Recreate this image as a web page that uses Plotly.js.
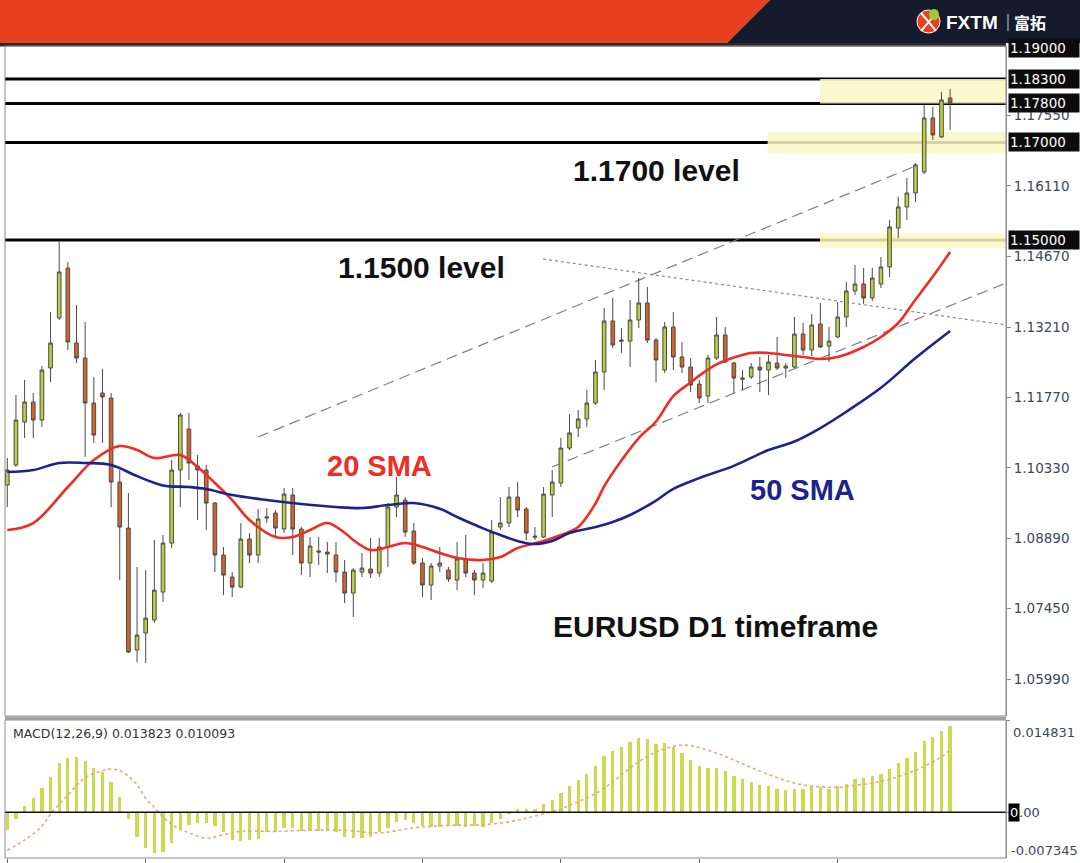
<!DOCTYPE html>
<html>
<head>
<meta charset="utf-8">
<script src="https://cdn.plot.ly/plotly-3.0.1.min.js"></script>
<style>
  html, body { margin:0; padding:0; background:#fff; }
  #chart { width:1080px; height:863px; }
</style>
</head>
<body>
<div id="chart"></div>
<script>
// ---------------- DATA ----------------
const openP = [1.09978,1.10388,1.11269,1.11679,1.11310,1.12376,1.13401,1.14426,1.12889,1.12581,
1.11659,1.11864,1.11761,1.10039,1.09096,1.06595,1.06944,1.07210,1.07784,1.08789,
1.10285,1.11126,1.10367,1.10285,1.09609,1.08543,1.08092,1.07887,1.08871,1.08543,
1.09301,1.09404,1.09076,1.09773,1.09076,1.08379,1.08625,1.08604,1.08543,1.08194,
1.07764,1.08194,1.08256,1.08174,1.08707,1.09527,1.09670,1.09035,1.08379,1.07928,
1.08317,1.08235,1.08030,1.08461,1.08174,1.08030,1.08010,1.09117,1.09199,1.09732,
1.09486,1.08932,1.08912,1.09773,1.10019,1.10736,1.11146,1.11331,1.11659,1.12294,
1.13340,1.12950,1.12929,1.13360,1.13709,1.12950,1.12335,1.13217,1.12602,1.12397,
1.12048,1.11802,1.12581,1.13053,1.12479,1.12171,1.12192,1.12397,1.12335,1.12479,
1.12376,1.12397,1.13073,1.12745,1.13278,1.12827,1.13012,1.13422,1.13955,1.14098,
1.13811,1.14098,1.14447,1.15246,1.15677,1.15964,1.16394,1.17501,1.17112,1.17911];
const highP = [1.10531,1.11823,1.12130,1.11864,1.12417,1.13524,1.14959,1.14549,1.13668,1.13319,
1.12192,1.12356,1.11864,1.10285,1.09814,1.08297,1.08235,1.08850,1.08953,1.10490,
1.11454,1.11454,1.10593,1.10388,1.09629,1.08707,1.08194,1.09199,1.08994,1.09486,
1.09506,1.09465,1.09916,1.09916,1.09117,1.08912,1.08912,1.08809,1.08809,1.08440,
1.08276,1.08584,1.08891,1.08891,1.09609,1.10142,1.09732,1.09199,1.08481,1.08379,
1.08707,1.08297,1.08809,1.08953,1.08235,1.08379,1.09260,1.09732,1.09937,1.10039,
1.09527,1.09117,1.09937,1.10285,1.10941,1.11433,1.11515,1.11925,1.12540,1.13606,
1.13811,1.13196,1.13770,1.14221,1.14037,1.12991,1.13319,1.13524,1.12909,1.12581,
1.12130,1.12643,1.13422,1.13217,1.12499,1.12335,1.12479,1.12602,1.12643,1.13012,
1.12479,1.13422,1.13299,1.13483,1.13709,1.13217,1.13729,1.14139,1.14488,1.14426,
1.14426,1.14652,1.15410,1.15882,1.16271,1.16579,1.17768,1.17727,1.18034,1.18096];
const lowP = [1.09527,1.10347,1.10941,1.10941,1.11167,1.12089,1.13360,1.12745,1.12479,1.10552,
1.10839,1.10839,1.09527,1.08030,1.06534,1.06349,1.06329,1.07149,1.07579,1.08686,
1.09527,1.10080,1.09260,1.09055,1.08194,1.07723,1.07682,1.07866,1.08379,1.08379,
1.09199,1.08912,1.08994,1.08543,1.08133,1.08092,1.08338,1.08174,1.07989,1.07559,
1.07272,1.08092,1.08071,1.08092,1.08297,1.09322,1.08912,1.08338,1.07682,1.07620,
1.08194,1.07989,1.07825,1.08092,1.07723,1.07866,1.07969,1.09055,1.09117,1.09322,
1.08850,1.08850,1.08891,1.09322,1.09937,1.10695,1.10962,1.11167,1.11618,1.11925,
1.12786,1.12684,1.12397,1.13196,1.12889,1.12089,1.12274,1.12335,1.12274,1.11884,
1.11659,1.11659,1.12540,1.12479,1.11864,1.11925,1.12150,1.11884,1.11823,1.12335,
1.12171,1.12376,1.12643,1.12622,1.12786,1.12499,1.12991,1.13217,1.13873,1.13688,
1.13750,1.14016,1.14242,1.15041,1.15410,1.15779,1.16353,1.17050,1.17091,1.17255];
const closeP = [1.10285,1.11310,1.11679,1.11310,1.12335,1.12889,1.14344,1.12909,1.12581,1.11659,
1.11003,1.11782,1.10039,1.09117,1.06554,1.06903,1.07251,1.07825,1.08789,1.10285,
1.11413,1.10429,1.10285,1.09609,1.08543,1.08133,1.07887,1.08871,1.08543,1.09281,
1.09322,1.09096,1.09793,1.09076,1.08379,1.08727,1.08604,1.08563,1.08194,1.07764,
1.08235,1.08276,1.08174,1.08707,1.09527,1.09773,1.09014,1.08379,1.07928,1.08317,
1.08379,1.08051,1.08461,1.08174,1.08030,1.08174,1.09014,1.09199,1.09732,1.09465,
1.08994,1.08912,1.09793,1.10039,1.10736,1.11044,1.11331,1.11659,1.12294,1.13340,
1.12848,1.12929,1.13360,1.13709,1.12950,1.12540,1.13217,1.12602,1.12397,1.12028,
1.11761,1.12581,1.13053,1.12499,1.12171,1.12150,1.12397,1.12335,1.12499,1.12376,
1.12417,1.13073,1.12745,1.13258,1.12807,1.12929,1.13422,1.13955,1.14098,1.13811,
1.14221,1.14447,1.15267,1.15677,1.15964,1.16538,1.17501,1.17153,1.17870,1.17809];

// 20 SMA (red) sampled along the line: bar index and value
const sma20Bar = [0,3,7,10,13,15,17,20,22,24,26,28,31,33,35,37,39,40,42,44,46,48,50,52,55,57,59,62,64,66,68,69,71,73,75,77,79,80,82,84,86,88,90,92,94,96,99,101,103,105,107,109];
const sma20Val = [1.09055,1.09199,1.09937,1.10490,1.10777,1.10695,1.10531,1.10593,1.10347,1.10019,1.09670,1.09260,1.08912,1.08912,1.09055,1.09199,1.09000,1.08850,1.08645,1.08707,1.08789,1.08707,1.08584,1.08481,1.08440,1.08502,1.08686,1.08830,1.08953,1.09117,1.09600,1.09950,1.10480,1.10940,1.11280,1.11800,1.12080,1.12220,1.12450,1.12590,1.12684,1.12684,1.12643,1.12602,1.12560,1.12602,1.12807,1.13012,1.13299,1.13780,1.14250,1.14754];

// 50 SMA (blue)
const sma50Bar = [0,3,6,9,12,15,18,21,23,26,30,34,38,41,44,47,50,52,55,57,59,61,63,65,68,70,72,75,77,80,84,88,91,94,97,101,105,109];
const sma50Val = [1.10244,1.10285,1.10429,1.10429,1.10388,1.10160,1.09970,1.09937,1.09896,1.09773,1.09670,1.09588,1.09527,1.09506,1.09568,1.09609,1.09490,1.09322,1.09090,1.08953,1.08830,1.08768,1.08830,1.08994,1.09117,1.09219,1.09363,1.09660,1.09900,1.10120,1.10370,1.10695,1.10870,1.11146,1.11480,1.11970,1.12580,1.13135];

// MACD(12,26,9) histogram, one value per bar
const macdHist = [-0.00289,-0.00100,0.00094,0.00222,0.00389,0.00567,0.00789,0.00872,0.00889,0.00822,
0.00706,0.00650,0.00483,0.00250,-0.00111,-0.00389,-0.00572,-0.00656,-0.00639,-0.00500,
-0.00278,-0.00211,-0.00167,-0.00167,-0.00222,-0.00322,-0.00444,-0.00456,-0.00444,-0.00433,
-0.00322,-0.00322,-0.00250,-0.00250,-0.00306,-0.00306,-0.00306,-0.00306,-0.00322,-0.00400,
-0.00417,-0.00417,-0.00400,-0.00322,-0.00250,-0.00156,-0.00122,-0.00167,-0.00222,-0.00233,
-0.00233,-0.00222,-0.00222,-0.00233,-0.00222,-0.00233,-0.00167,-0.00100,-0.00028,0.00056,
0.00056,0.00056,0.00139,0.00194,0.00306,0.00417,0.00511,0.00622,0.00750,0.00906,
0.00989,0.01044,0.01122,0.01194,0.01178,0.01100,0.01111,0.01044,0.00956,0.00844,
0.00750,0.00706,0.00706,0.00656,0.00583,0.00528,0.00489,0.00433,0.00417,0.00378,
0.00361,0.00378,0.00378,0.00411,0.00400,0.00378,0.00417,0.00456,0.00528,0.00544,
0.00583,0.00611,0.00694,0.00789,0.00878,0.00972,0.01139,0.01211,0.01300,0.01382];

// MACD signal line (dotted), sampled
const signalBar = [0,2,4,5,7,9,11,12,13,14,15,16,17,18,19,20,21,23,25,27,31,35,39,43,47,51,55,59,61,64,66,68,70,72,74,76,78,80,82,84,86,88,90,92,94,96,98,100,102,104,106,108,109];
const signalVal = [-0.00611,-0.00444,-0.00222,-0.00028,0.00278,0.00556,0.00667,0.00694,0.00670,0.00580,0.00444,0.00222,0.00080,-0.00080,-0.00194,-0.00278,-0.00330,-0.00417,-0.00360,-0.00306,-0.00306,-0.00289,-0.00289,-0.00330,-0.00250,-0.00210,-0.00200,-0.00130,-0.00060,0.00056,0.00170,0.00300,0.00490,0.00710,0.00900,0.01020,0.01080,0.01040,0.00950,0.00840,0.00720,0.00610,0.00510,0.00440,0.00410,0.00400,0.00430,0.00470,0.00530,0.00620,0.00740,0.00890,0.01009];

// Price axis tick labels
const priceTicks = [1.0599,1.0745,1.0889,1.1033,1.1177,1.1321,1.1467,1.1611,1.1755];
const priceTickText = ['1.05990','1.07450','1.08890','1.10330','1.11770','1.13210','1.14670','1.16110','1.17550'];

// Horizontal key levels and highlighted zones
const levels = [1.183, 1.178, 1.170, 1.150];
const levelText = ['1.18300','1.17800','1.17000','1.15000'];
const zoneLow  = [1.17800, 1.16784, 1.14836];
const zoneHigh = [1.18300, 1.17214, 1.15144];
const zoneStartBar = [93.95, 87.9, 93.95];

// Trend lines (bar index, price)
const trendUpper  = {x0:28.98, y0:1.10961, x1:105.3,  y1:1.16538};
const trendLower  = {x0:62.97, y0:1.10347, x1:115.46, y1:1.14118};
const trendDotted = {x0:61.93, y0:1.14610, x1:115.46, y1:1.13258};

const macdMain = '0.013823', macdSignal = '0.010093';
const macdMax = 0.014831, macdMin = -0.007345;

// ---------------- LAYOUT ----------------
const W = 1080, H = 863, ML = 5, MR = 74, MT = 46, MB = 5;
const PW = W - ML - MR, PH = H - MT - MB;
const px = v => (v - ML) / PW;          // pixel x -> paper
const py = v => (H - MB - v) / PH;      // pixel y -> paper

const idx = openP.map((_, i) => i);
const xMin = -0.266, xMax = 115.46;
const mainDomain = [py(716), 1];
const macdDomain = [0, py(720)];

const traces = [
  {
    type: 'candlestick', x: idx, open: openP, high: highP, low: lowP, close: closeP,
    xaxis: 'x', yaxis: 'y', whiskerwidth: 0, hoverinfo: 'skip',
    increasing: { line: { color: '#4a4a4a', width: 1 }, fillcolor: '#bccd45' },
    decreasing: { line: { color: '#4a4a4a', width: 1 }, fillcolor: '#d5642c' }
  },
  {
    type: 'scatter', mode: 'lines', x: sma20Bar, y: sma20Val, xaxis: 'x', yaxis: 'y',
    line: { color: '#ee2d24', width: 2.6, shape: 'spline', smoothing: 1 }, hoverinfo: 'skip'
  },
  {
    type: 'scatter', mode: 'lines', x: sma50Bar, y: sma50Val, xaxis: 'x', yaxis: 'y',
    line: { color: '#1d238c', width: 2.6, shape: 'spline', smoothing: 1 }, hoverinfo: 'skip'
  },
  {
    type: 'bar', x: idx, y: macdHist, xaxis: 'x', yaxis: 'y2', width: 0.38,
    marker: { color: '#c8dc4e', line: { width: 0 } }, hoverinfo: 'skip'
  },
  {
    type: 'scatter', mode: 'lines', x: signalBar, y: signalVal, xaxis: 'x', yaxis: 'y2',
    line: { color: '#f2a27c', width: 1.6, dash: 'dot', shape: 'spline' }, hoverinfo: 'skip'
  }
];

const shapes = [];
// banner
shapes.push({ type: 'path', xref: 'paper', yref: 'paper', layer: 'above',
  path: `M ${px(0)},${py(0)} L ${px(770)},${py(0)} L ${px(727)},${py(43)} L ${px(0)},${py(43)} Z`,
  fillcolor: '#e8401f', line: { width: 0 } });
shapes.push({ type: 'path', xref: 'paper', yref: 'paper', layer: 'above',
  path: `M ${px(770)},${py(0)} L ${px(1080)},${py(0)} L ${px(1080)},${py(43)} L ${px(727)},${py(43)} Z`,
  fillcolor: '#151a2d', line: { width: 0 } });
shapes.push({ type: 'rect', xref: 'paper', yref: 'paper', layer: 'above',
  x0: px(0), x1: px(1006), y0: py(46.5), y1: py(43), fillcolor: '#2a2a2a', line: { width: 0 } });
// logo
shapes.push({ type: 'circle', xref: 'paper', yref: 'paper', layer: 'above',
  x0: px(917), x1: px(940), y0: py(33), y1: py(10), fillcolor: '#e8401f', line: { color: '#ffffff', width: 1 } });
shapes.push({ type: 'path', xref: 'paper', yref: 'paper', layer: 'above',
  path: `M ${px(921)},${py(13)} Q ${px(929)},${py(22)} ${px(936)},${py(31)} M ${px(921)},${py(31)} Q ${px(929)},${py(22)} ${px(936)},${py(13)}`,
  line: { color: '#ffffff', width: 2 } });
shapes.push({ type: 'circle', xref: 'paper', yref: 'paper', layer: 'above',
  x0: px(929), x1: px(939), y0: py(20), y1: py(9), fillcolor: '#a3c93a', line: { width: 0 } });
shapes.push({ type: 'line', xref: 'paper', yref: 'paper', layer: 'above',
  x0: px(1008), x1: px(1008), y0: py(14), y1: py(31), line: { color: '#cfd3dc', width: 1 } });

// highlighted zones
zoneLow.forEach((lo, k) => shapes.push({ type: 'rect', xref: 'x', yref: 'y', layer: 'below',
  x0: zoneStartBar[k], x1: xMax, y0: lo, y1: zoneHigh[k],
  fillcolor: 'rgba(250,247,196,0.85)', line: { width: 0 } }));
// trend lines
[[trendUpper, 'dash'], [trendLower, 'dash'], [trendDotted, 'dot']].forEach(([t, d]) =>
  shapes.push({ type: 'line', xref: 'x', yref: 'y', layer: 'below',
    x0: t.x0, y0: t.y0, x1: t.x1, y1: t.y1,
    line: { color: d === 'dot' ? '#8a8a8a' : '#808080', width: 1.2, dash: d === 'dot' ? 'dot' : '11px,6px' } }));
// level lines
levels.forEach(l => shapes.push({ type: 'line', xref: 'paper', yref: 'y', layer: 'below',
  x0: 0, x1: 1, y0: l, y1: l, line: { color: '#000000', width: 3 } }));
// MACD zero line
shapes.push({ type: 'line', xref: 'paper', yref: 'y2', layer: 'above',
  x0: 0, x1: 1, y0: 0, y1: 0, line: { color: '#111111', width: 1.5 } });
// panel frames
shapes.push({ type: 'rect', xref: 'paper', yref: 'y domain', layer: 'above',
  x0: 0, x1: 1, y0: 0, y1: 1, line: { color: '#8c8c8c', width: 1 } });
shapes.push({ type: 'rect', xref: 'paper', yref: 'y2 domain', layer: 'above',
  x0: 0, x1: 1, y0: 0, y1: 1, line: { color: '#8c8c8c', width: 1 } });
shapes.push({ type: 'rect', xref: 'paper', yref: 'paper', layer: 'above',
  x0: 0, x1: 1, y0: py(720), y1: py(716.5), fillcolor: '#a0a0a0', line: { width: 0 } });

const annFont = (size, color) => ({ family: 'Liberation Sans, Arial, sans-serif', size: size, color: color });
const annotations = [
  { xref: 'paper', yref: 'paper', x: px(944), y: py(22), xanchor: 'left', yanchor: 'middle', showarrow: false,
    text: '<b>FXTM</b>', font: { family: 'Liberation Sans, Arial, sans-serif', size: 19, color: '#ffffff' } },
  { xref: 'paper', yref: 'paper', x: px(1012), y: py(22), xanchor: 'left', yanchor: 'middle', showarrow: false,
    text: '<b>富拓</b>', font: { family: 'Noto Sans CJK SC, sans-serif', size: 16, color: '#ffffff' } },

  { xref: 'x', yref: 'y', x: 75.1, y: 1.16415, showarrow: false, text: '<b>1.1700 level</b>', font: annFont(30, '#111111') },
  { xref: 'x', yref: 'y', x: 47.9, y: 1.14446, showarrow: false, text: '<b>1.1500 level</b>', font: annFont(30, '#111111') },
  { xref: 'x', yref: 'y', x: 43.0, y: 1.10367, showarrow: false, text: '<b>20 SMA</b>', font: annFont(29, '#ee2d24') },
  { xref: 'x', yref: 'y', x: 91.9, y: 1.09875, showarrow: false, text: '<b>50 SMA</b>', font: annFont(29, '#1d238c') },
  { xref: 'x', yref: 'y', x: 81.9, y: 1.07087, showarrow: false, text: '<b>EURUSD D1 timeframe</b>', font: annFont(30, '#111111') },

  { xref: 'paper', yref: 'y2 domain', x: px(11), y: 1, yshift: -4, xanchor: 'left', yanchor: 'top', showarrow: false,
    text: 'MACD(12,26,9) ' + macdMain + ' ' + macdSignal,
    font: { family: 'DejaVu Sans, sans-serif', size: 12.5, color: '#333333' } },

  { xref: 'paper', yref: 'paper', x: px(1011), y: py(732), xanchor: 'left', yanchor: 'middle', showarrow: false,
    text: String(macdMax), font: { family: 'DejaVu Sans, sans-serif', size: 13, color: '#3c4858' } },
  { xref: 'paper', yref: 'paper', x: px(1009), y: py(850), xanchor: 'left', yanchor: 'middle', showarrow: false,
    text: String(macdMin), font: { family: 'DejaVu Sans, sans-serif', size: 13, color: '#3c4858' } },
  { xref: 'paper', yref: 'y2', x: px(1017), y: 0, xanchor: 'left', yanchor: 'middle', showarrow: false,
    text: '.00', font: { family: 'DejaVu Sans, sans-serif', size: 13, color: '#3c4858' } },
  { xref: 'paper', yref: 'y2', x: px(1008), y: 0, xanchor: 'left', yanchor: 'middle', showarrow: false,
    text: '0', bgcolor: '#000000', borderpad: 1, font: { family: 'DejaVu Sans, sans-serif', size: 13, color: '#ffffff' } },

  { xref: 'paper', yref: 'paper', x: px(1008), y: py(48), xanchor: 'left', yanchor: 'middle', showarrow: false,
    text: '1.19000', bgcolor: '#0c0c0c', borderpad: 1, width: 68, align: 'left',
    font: { family: 'DejaVu Sans, sans-serif', size: 13.5, color: '#ffffff' } }
];
levels.forEach((l, k) => annotations.push({ xref: 'paper', yref: 'y', x: px(1008), y: l,
  xanchor: 'left', yanchor: 'middle', showarrow: false, text: levelText[k],
  bgcolor: '#0c0c0c', borderpad: 1, width: 68, align: 'left',
  font: { family: 'DejaVu Sans, sans-serif', size: 13.5, color: '#ffffff' } }));

const layout = {
  width: W, height: H,
  margin: { l: ML, r: MR, t: MT, b: MB, pad: 0 },
  paper_bgcolor: '#ffffff', plot_bgcolor: '#ffffff',
  showlegend: false, boxgap: 0.4, bargap: 0,
  xaxis: {
    domain: [0, 1], range: [xMin, xMax], anchor: 'y2',
    rangeslider: { visible: false },
    showgrid: false, zeroline: false, showline: false,
    tickvals: [0, 16, 32, 48, 64, 80, 96], ticks: 'outside', ticklen: 4, tickcolor: '#666',
    showticklabels: false
  },
  yaxis: {
    domain: mainDomain, range: [1.05244, 1.18976], side: 'right', anchor: 'x',
    showgrid: false, zeroline: false, showline: true, linecolor: '#8c8c8c',
    tickvals: priceTicks, ticktext: priceTickText, ticks: 'outside', ticklen: 4, tickcolor: '#8c8c8c',
    tickfont: { family: 'DejaVu Sans, sans-serif', size: 13.5, color: '#3c4858' }
  },
  yaxis2: {
    domain: macdDomain, range: [macdMin, macdMax], side: 'right', anchor: 'x',
    showgrid: false, zeroline: false, showline: true, linecolor: '#8c8c8c',
    showticklabels: false, tickvals: [macdMax, 0], ticks: 'outside', ticklen: 3, tickcolor: '#8c8c8c'
  },
  shapes: shapes,
  annotations: annotations
};

Plotly.newPlot('chart', traces, layout, { staticPlot: true, displayModeBar: false });
</script>
</body>
</html>
